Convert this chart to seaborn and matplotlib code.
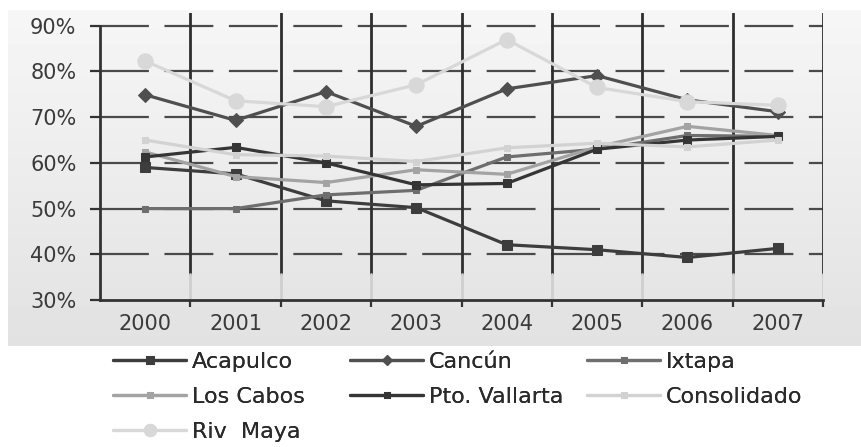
import numpy as np
import pandas as pd
import seaborn as sns
from matplotlib import pyplot as plt

years = [2000, 2001, 2002, 2003, 2004, 2005, 2006, 2007]

acapulco = [59.0, 57.6, 51.7, 50.2, 42.1, 41.0, 39.3, 41.3]
cancun = [74.9, 69.3, 75.6, 68.0, 76.2, 79.1, 73.8, 71.2]
ixtapa = [50.0, 50.0, 53.0, 54.0, 61.3, 63.0, 66.0, 65.8]
los_cabos = [62.4, 57.0, 55.7, 58.5, 57.5, 63.5, 68.0, 66.0]
pto_vallarta = [61.3, 63.4, 60.0, 55.2, 55.5, 63.0, 65.0, 65.8]
consolidado = [65.0, 61.8, 61.5, 60.3, 63.3, 64.3, 63.5, 65.0]
riv_maya = [82.3, 73.6, 72.3, 77.1, 87.0, 76.5, 73.4, 72.6]

names = ["Acapulco", "Cancún", "Ixtapa", "Los Cabos", "Pto. Vallarta", "Consolidado", "Riv  Maya"]
series = [acapulco, cancun, ixtapa, los_cabos, pto_vallarta, consolidado, riv_maya]
colors = ["#3d3d3d", "#4f4f4f", "#6e6e6e", "#a3a3a3", "#353535", "#d2d2d2", "#d8d8d8"]
markers = ["s", "D", "s", "s", "s", "s", "o"]
msizes = [7, 7, 5, 5, 6, 5, 11]
y_ticks = [30, 40, 50, 60, 70, 80, 90]

df = pd.DataFrame({"year": years})
for name, vals in zip(names, series):
    df[name] = vals
long_df = df.melt(id_vars="year", var_name="destino", value_name="ocupacion")

sns.set_theme(style="white")
plt.rcParams["font.family"] = ["DejaVu Sans"]

fig = plt.figure(figsize=(8.61, 4.47), dpi=100)

# gray gradient panel behind the plot
bg = fig.add_axes([8 / 861, 1 - 346 / 447, 853 / 861, 336 / 447], zorder=-10)
grad = np.linspace(0.965, 0.885, 100).reshape(-1, 1)
bg.imshow(grad, aspect="auto", cmap="gray", vmin=0, vmax=1, extent=[0, 1, 0, 1])
bg.set_axis_off()

ax = fig.add_axes([100 / 861, 1 - 300 / 447, 723 / 861, 287 / 447])
ax.patch.set_alpha(0)

for name, col, mk, ms in zip(names, colors, markers, msizes):
    sub = long_df[long_df["destino"] == name]
    sns.lineplot(data=sub, x="year", y="ocupacion", color=col, marker=mk,
                 markersize=ms, markeredgecolor=col, linewidth=2.3,
                 label=name, ax=ax, zorder=3)

ax.set_xlim(1999.5, 2007.5)
ax.set_ylim(30, 30 + 287 / 45.7 * 10)
ax.set_yticks(y_ticks)
ax.set_yticklabels([f"{v}%" for v in y_ticks])
ax.set_xticks(years)
ax.set_xticklabels([str(y) for y in years])
ax.set_xlabel("")
ax.set_ylabel("")

for v in y_ticks[1:]:
    ax.axhline(v, color="#4a4a4a", lw=1.6, dashes=(22, 7), zorder=1)
for b in np.arange(2000.5, 2007.6, 1.0):
    ax.axvline(b, ymin=0.09, ymax=1, color="#2e2e2e", lw=2.0, zorder=2)
    ax.axvline(b, ymin=0, ymax=0.09, color="#cfcfcf", lw=2.0, zorder=2)

for s in ["top", "right"]:
    ax.spines[s].set_visible(False)
ax.spines["left"].set_bounds(30, 90)
ax.spines["left"].set_color("#333333")
ax.spines["left"].set_linewidth(2)
ax.spines["bottom"].set_color("#333333")
ax.spines["bottom"].set_linewidth(2)

ax.tick_params(axis="y", length=7, width=1.6, color="#333333", labelsize=15,
               labelcolor="#3a3a3a", left=True, pad=10)
ax.tick_params(axis="x", length=0, labelsize=15, labelcolor="#3a3a3a", pad=10)
ax.set_xticks(np.arange(2000.5, 2007.6, 1.0), minor=True)
ax.tick_params(axis="x", which="minor", length=5, width=1.6, color="#333333", bottom=True)

h, l = ax.get_legend_handles_labels()
ax.get_legend().remove()

# legend as three fixed-width columns, filled row by row
col_x = [113, 350, 587]
for c in range(3):
    idx = list(range(c, len(h), 3))
    leg = fig.legend([h[i] for i in idx], [l[i] for i in idx],
                     loc="upper left", bbox_to_anchor=(col_x[c] / 861, 1 - 352 / 447),
                     frameon=False, fontsize=16, handlelength=3.3, handletextpad=0.25,
                     labelspacing=0.68, borderpad=0, borderaxespad=0,
                     labelcolor="#2a2a2a", markerscale=0.8)
    fig.add_artist(leg)

fig.savefig("out.png", dpi=100)
